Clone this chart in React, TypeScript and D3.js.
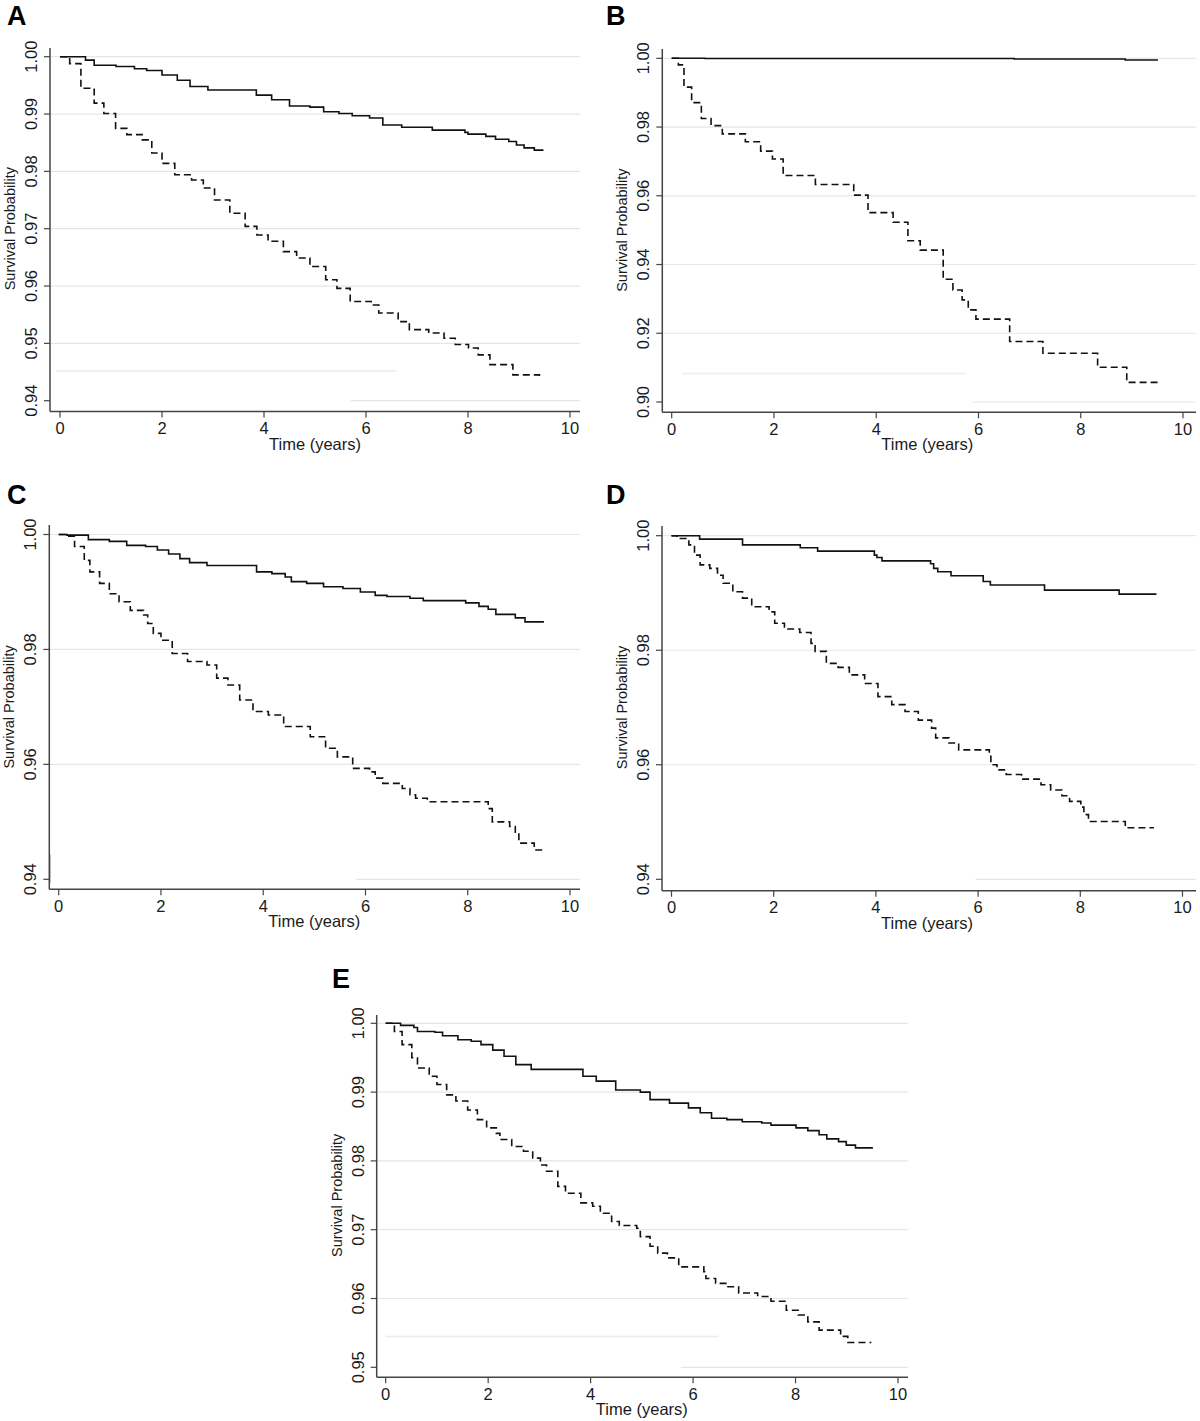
import React from "react";
import * as d3 from "d3";

// ---------- DATA ----------
const xTicks = [0, 2, 4, 6, 8, 10];
const yTicksA = [0.94, 0.95, 0.96, 0.97, 0.98, 0.99, 1.0];
const yTicksB = [0.9, 0.92, 0.94, 0.96, 0.98, 1.0];
const yTicksC = [0.94, 0.96, 0.98, 1.0];
const yTicksD = [0.94, 0.96, 0.98, 1.0];
const yTicksE = [0.95, 0.96, 0.97, 0.98, 0.99, 1.0];

// Panel A
const aSolidTime = [0, 0.5, 0.67, 1.1, 1.46, 1.7, 2.0, 2.3, 2.55, 2.9, 3.85, 4.15, 4.5, 4.9, 5.17, 5.47, 5.73, 6.07, 6.33, 6.7, 7.3, 7.94, 8.0, 8.35, 8.54, 8.8, 8.95, 9.1, 9.3, 9.48];
const aSolidSurv = [1.0, 0.9994, 0.9985, 0.9983, 0.9979, 0.9976, 0.9968, 0.9959, 0.9948, 0.9942, 0.9933, 0.9925, 0.9914, 0.9912, 0.9904, 0.9901, 0.9897, 0.9893, 0.9881, 0.9877, 0.9872, 0.9868, 0.9865, 0.9861, 0.9856, 0.9852, 0.9846, 0.9841, 0.9837, 0.9837];
const aDashTime = [0, 0.19, 0.41, 0.67, 0.86, 1.09, 1.31, 1.61, 1.8, 2.0, 2.25, 2.58, 2.81, 3.03, 3.33, 3.63, 3.86, 4.08, 4.38, 4.64, 4.9, 5.21, 5.43, 5.69, 6.1, 6.25, 6.63, 6.85, 7.23, 7.53, 7.75, 8.01, 8.2, 8.43, 8.88, 9.4];
const aDashSurv = [1.0, 0.9988, 0.9945, 0.9919, 0.9901, 0.9875, 0.9864, 0.9855, 0.9832, 0.9814, 0.9794, 0.9785, 0.9771, 0.975, 0.9727, 0.9704, 0.9689, 0.9678, 0.966, 0.9649, 0.9634, 0.9611, 0.9596, 0.9573, 0.9567, 0.9553, 0.9538, 0.9524, 0.9518, 0.9509, 0.9498, 0.9492, 0.948, 0.9463, 0.9445, 0.9443];

// Panel B
const bSolidTime = [0, 0.65, 6.7, 8.87, 9.51];
const bSolidSurv = [1.0, 0.99995, 0.9998, 0.9995, 0.9995];
const bDashTime = [0, 0.13, 0.24, 0.39, 0.58, 0.77, 0.99, 1.44, 1.74, 1.97, 2.18, 2.81, 3.56, 3.84, 4.33, 4.62, 4.86, 5.31, 5.5, 5.68, 5.8, 5.95, 6.61, 7.26, 8.33, 8.9, 9.51];
const bDashSurv = [1.0, 0.9981, 0.9916, 0.9871, 0.9825, 0.9804, 0.978, 0.9757, 0.973, 0.9707, 0.9659, 0.9633, 0.9602, 0.9551, 0.9523, 0.9469, 0.9442, 0.9357, 0.9326, 0.9297, 0.9268, 0.9241, 0.9176, 0.9142, 0.9101, 0.9057, 0.9057];

// Panel C
const cSolidTime = [0, 0.16, 0.58, 0.99, 1.33, 1.7, 1.93, 2.15, 2.37, 2.56, 2.9, 3.87, 4.17, 4.43, 4.55, 4.85, 5.18, 5.56, 5.9, 6.19, 6.42, 6.87, 7.13, 7.96, 8.22, 8.4, 8.55, 8.93, 9.12, 9.49];
const cSolidSurv = [1.0, 0.9999, 0.9991, 0.9988, 0.9981, 0.9979, 0.9973, 0.9966, 0.9958, 0.9951, 0.9946, 0.9935, 0.9932, 0.9926, 0.9918, 0.9915, 0.9909, 0.9906, 0.99, 0.9894, 0.9892, 0.9889, 0.9885, 0.9881, 0.9875, 0.987, 0.9861, 0.9855, 0.9848, 0.9848];
const cDashTime = [0, 0.16, 0.31, 0.5, 0.61, 0.8, 0.99, 1.18, 1.4, 1.66, 1.74, 1.85, 2.0, 2.22, 2.52, 2.9, 3.09, 3.31, 3.54, 3.8, 4.1, 4.4, 4.92, 5.22, 5.45, 5.75, 6.08, 6.19, 6.34, 6.72, 6.87, 6.98, 7.21, 8.4, 8.48, 8.82, 8.93, 9.0, 9.3, 9.49];
const cDashSurv = [1.0, 0.9997, 0.9979, 0.9955, 0.9935, 0.9915, 0.9897, 0.9883, 0.9868, 0.986, 0.9845, 0.9828, 0.9816, 0.9793, 0.9779, 0.9773, 0.975, 0.9738, 0.9712, 0.9692, 0.9686, 0.9666, 0.9648, 0.9628, 0.9613, 0.9593, 0.9587, 0.9576, 0.9567, 0.9558, 0.9547, 0.9541, 0.9535, 0.9523, 0.95, 0.9492, 0.948, 0.9463, 0.9451, 0.9451];

// Panel D
const dSolidTime = [0, 0.55, 1.39, 2.52, 2.86, 3.97, 4.02, 4.12, 5.07, 5.13, 5.21, 5.47, 6.1, 6.24, 7.3, 8.76, 9.49];
const dSolidSurv = [1.0, 0.9994, 0.9984, 0.9979, 0.9973, 0.9966, 0.9962, 0.9956, 0.9951, 0.9943, 0.9937, 0.993, 0.992, 0.9914, 0.9905, 0.9898, 0.9898];
const dDashTime = [0, 0.11, 0.34, 0.45, 0.56, 0.75, 0.9, 1.01, 1.2, 1.39, 1.57, 1.91, 2.02, 2.21, 2.51, 2.73, 2.81, 3.03, 3.26, 3.48, 3.78, 4.04, 4.31, 4.57, 4.83, 5.09, 5.17, 5.43, 5.62, 6.22, 6.25, 6.37, 6.55, 6.85, 7.23, 7.42, 7.64, 7.79, 8.01, 8.07, 8.16, 8.88, 9.44];
const dDashSurv = [1.0, 0.9995, 0.9984, 0.9966, 0.9949, 0.9943, 0.9931, 0.9917, 0.9902, 0.9891, 0.9876, 0.9867, 0.9847, 0.9837, 0.9831, 0.9812, 0.9798, 0.9777, 0.977, 0.9757, 0.9742, 0.9719, 0.9705, 0.9693, 0.9678, 0.9664, 0.9647, 0.9638, 0.9626, 0.9615, 0.96, 0.9591, 0.9583, 0.9575, 0.9565, 0.9556, 0.9546, 0.9536, 0.9526, 0.9513, 0.9501, 0.949, 0.949];

// Panel E
const eSolidTime = [0, 0.29, 0.55, 0.62, 0.96, 1.11, 1.41, 1.67, 1.86, 2.09, 2.31, 2.54, 2.84, 3.85, 4.11, 4.49, 4.97, 5.16, 5.54, 5.91, 6.14, 6.36, 6.66, 6.96, 7.34, 7.52, 8.01, 8.24, 8.46, 8.61, 8.84, 8.99, 9.17, 9.51];
const eSolidSurv = [1.0, 0.9997, 0.9994, 0.9988, 0.9987, 0.9982, 0.9976, 0.9974, 0.9969, 0.9961, 0.9952, 0.994, 0.9933, 0.9923, 0.9916, 0.9903, 0.99, 0.9889, 0.9884, 0.9877, 0.987, 0.9862, 0.986, 0.9857, 0.9855, 0.9852, 0.9848, 0.9844, 0.9838, 0.9832, 0.9828, 0.9823, 0.9819, 0.9819];
const eDashTime = [0, 0.17, 0.32, 0.51, 0.62, 0.85, 1.0, 1.19, 1.37, 1.6, 1.79, 1.97, 2.16, 2.23, 2.46, 2.69, 2.87, 3.02, 3.14, 3.36, 3.51, 3.81, 4.04, 4.19, 4.41, 4.56, 4.9, 4.97, 5.16, 5.31, 5.5, 5.72, 6.21, 6.25, 6.44, 6.66, 6.89, 7.26, 7.52, 7.82, 8.05, 8.24, 8.46, 8.88, 9.02, 9.48];
const eDashSurv = [1.0, 0.9988, 0.9969, 0.995, 0.9935, 0.9923, 0.9911, 0.9896, 0.9887, 0.9874, 0.986, 0.9848, 0.984, 0.9831, 0.9821, 0.9814, 0.9804, 0.9794, 0.9785, 0.9763, 0.9753, 0.9739, 0.9734, 0.9724, 0.9712, 0.9706, 0.9702, 0.969, 0.9676, 0.9666, 0.9659, 0.9646, 0.9639, 0.9629, 0.9622, 0.9617, 0.9608, 0.9603, 0.9596, 0.9583, 0.9576, 0.9566, 0.9554, 0.9545, 0.9536, 0.9536];

// faint scan artefacts [timeFrom, timeTo, survival]
const aFaint = [-0.08, 6.6, 0.9452];
const bFaint = [0.2, 5.76, 0.9083];
const eFaint = [0.0, 6.5, 0.95446];

// ---------- LAYOUT ----------
const FONT = "'Liberation Sans', Arial, Helvetica, sans-serif";

type Layout = {
  letter: string; x0: number; x10: number; yAxisX: number; yTop: number; yBot: number;
  xAxisY: number; top: number; right: number; letterX: number; letterY: number; gridFrom: number;
};

const layoutA: Layout = { letter: "A", x0: 60, x10: 570, yAxisX: 50, yTop: 56.7, yBot: 400.7, xAxisY: 411.5, top: 48, right: 580, letterX: 7, letterY: 25, gridFrom: 5.7 };
const layoutB: Layout = { letter: "B", x0: 671.7, x10: 1183, yAxisX: 662.3, yTop: 58.3, yBot: 402, xAxisY: 412.3, top: 49, right: 1196, letterX: 606, letterY: 25, gridFrom: 5.87 };
const layoutC: Layout = { letter: "C", x0: 58.7, x10: 570, yAxisX: 49.3, yTop: 534.5, yBot: 879.3, xAxisY: 889.3, top: 525, right: 580, letterX: 7, letterY: 504, gridFrom: 5.82 };
const layoutD: Layout = { letter: "D", x0: 671.5, x10: 1182.5, yAxisX: 662, yTop: 535.7, yBot: 879.3, xAxisY: 890.7, top: 526, right: 1196, letterX: 606, letterY: 504, gridFrom: 5.95 };
const layoutE: Layout = { letter: "E", x0: 385.7, x10: 898, yAxisX: 376.7, yTop: 1023.3, yBot: 1367.3, xAxisY: 1377.3, top: 1015, right: 908, letterX: 332, letterY: 988, gridFrom: 5.76 };

const AXIS = "#444";
const GRID = "#e6e6e6";
const CURVE = "#111";
const TEXT = "#1a1a1a";

function Panel({ L, yTicks, solidT, solidS, dashT, dashS, faint, vmark }: any) {
  const x = d3.scaleLinear().domain([0, 10]).range([L.x0, L.x10]);
  const y = d3.scaleLinear().domain([yTicks[0], yTicks[yTicks.length - 1]]).range([L.yBot, L.yTop]);
  const line = d3
    .line<[number, number]>()
    .x((d) => x(d[0]))
    .y((d) => y(d[1]))
    .curve(d3.curveStepAfter);
  const solidPts: [number, number][] = solidT.map((t: number, i: number) => [t, solidS[i]]);
  const dashPts: [number, number][] = dashT.map((t: number, i: number) => [t, dashS[i]]);
  const fmt = d3.format(".2f");
  const midY = (L.yTop + L.yBot) / 2;
  return (
    <g>
      <text x={L.letterX} y={L.letterY} fontFamily={FONT} fontWeight="bold" fontSize={27} fill="#000">
        {L.letter}
      </text>
      {yTicks.map((v: number, i: number) => (
        <line
          key={"g" + i}
          x1={i === 0 ? x(L.gridFrom) : L.yAxisX}
          x2={L.right}
          y1={y(v)}
          y2={y(v)}
          stroke={GRID}
          strokeWidth={1.2}
        />
      ))}
      {faint && (
        <line x1={x(faint[0])} x2={x(faint[1])} y1={y(faint[2])} y2={y(faint[2])} stroke="#ececec" strokeWidth={1.5} />
      )}
      {vmark && (
        <line x1={x(vmark[0])} x2={x(vmark[0])} y1={y(vmark[1])} y2={y(vmark[2])} stroke="#888" strokeWidth={1} />
      )}
      <path d={line(solidPts) || ""} fill="none" stroke={CURVE} strokeWidth={1.6} />
      <path d={line(dashPts) || ""} fill="none" stroke={CURVE} strokeWidth={1.6} strokeDasharray="7,4" />
      <line x1={L.yAxisX} x2={L.yAxisX} y1={L.top} y2={L.xAxisY} stroke={AXIS} strokeWidth={1.5} />
      <line x1={L.yAxisX} x2={L.right} y1={L.xAxisY} y2={L.xAxisY} stroke={AXIS} strokeWidth={1.5} />
      {yTicks.map((v: number, i: number) => (
        <g key={"y" + i}>
          <line x1={L.yAxisX - 6} x2={L.yAxisX} y1={y(v)} y2={y(v)} stroke={AXIS} strokeWidth={1.2} />
          <text
            transform={`translate(${L.yAxisX - 13},${y(v)}) rotate(-90)`}
            textAnchor="middle"
            fontFamily={FONT}
            fontSize={16.5}
            fill={TEXT}
          >
            {fmt(v)}
          </text>
        </g>
      ))}
      {xTicks.map((v, i) => (
        <g key={"x" + i}>
          <line x1={x(v)} x2={x(v)} y1={L.xAxisY} y2={L.xAxisY + 6} stroke={AXIS} strokeWidth={1.2} />
          <text x={x(v)} y={L.xAxisY + 22.5} textAnchor="middle" fontFamily={FONT} fontSize={16.5} fill={TEXT}>
            {v}
          </text>
        </g>
      ))}
      <text
        x={(L.x0 + L.x10) / 2}
        y={L.xAxisY + 38}
        textAnchor="middle"
        fontFamily={FONT}
        fontSize={16.5}
        fill={TEXT}
      >
        Time (years)
      </text>
      <text
        transform={`translate(${L.yAxisX - 35},${midY}) rotate(-90)`}
        textAnchor="middle"
        fontFamily={FONT}
        fontSize={14.5}
        fill={TEXT}
      >
        Survival Probability
      </text>
    </g>
  );
}

export default function App() {
  return (
    <svg
      width={1200}
      height={1421}
      viewBox="0 0 1200 1421"
      style={{ position: "absolute", left: 0, top: 0, background: "#fff" }}
    >
      <rect x={0} y={0} width={1200} height={1421} fill="#fff" />
      <Panel L={layoutA} yTicks={yTicksA} solidT={aSolidTime} solidS={aSolidSurv} dashT={aDashTime} dashS={aDashSurv} faint={aFaint} />
      <Panel L={layoutB} yTicks={yTicksB} solidT={bSolidTime} solidS={bSolidSurv} dashT={bDashTime} dashS={bDashSurv} faint={bFaint} />
      <Panel L={layoutC} yTicks={yTicksC} solidT={cSolidTime} solidS={cSolidSurv} dashT={cDashTime} dashS={cDashSurv} vmark={[-0.17, 0.9443, 0.9394]} />
      <Panel L={layoutD} yTicks={yTicksD} solidT={dSolidTime} solidS={dSolidSurv} dashT={dDashTime} dashS={dDashSurv} />
      <Panel L={layoutE} yTicks={yTicksE} solidT={eSolidTime} solidS={eSolidSurv} dashT={eDashTime} dashS={eDashSurv} faint={eFaint} />
    </svg>
  );
}
